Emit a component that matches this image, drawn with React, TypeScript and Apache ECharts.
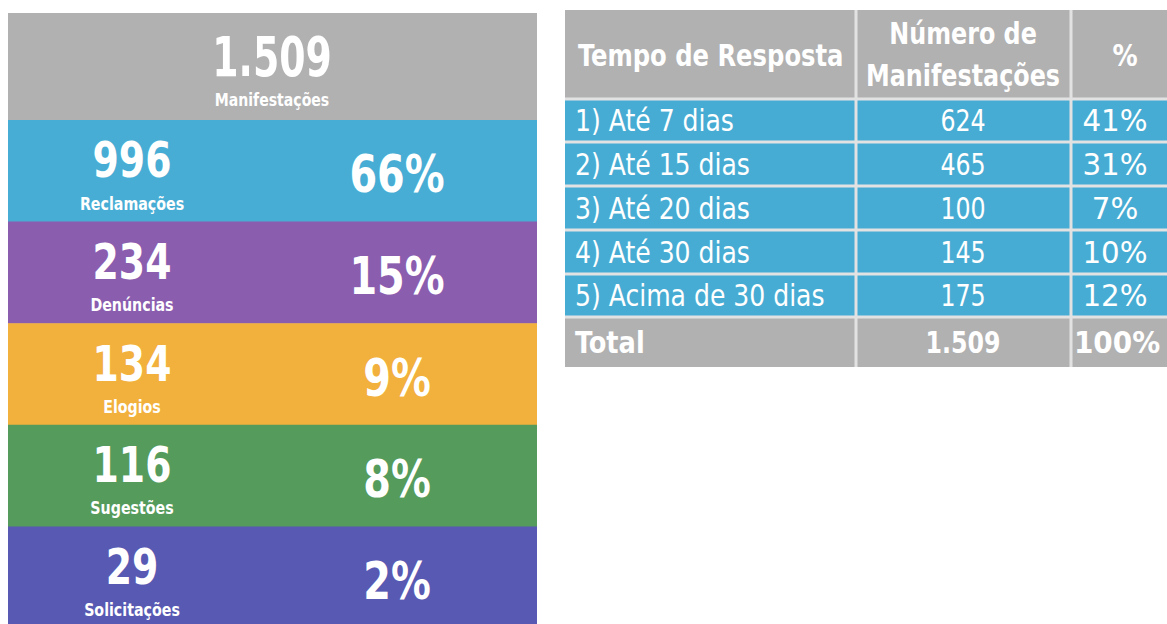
import React, { useEffect, useRef } from "react";
import * as echarts from "echarts";

// ---------- data ----------
const totalCount = "1.509";
const totalLabel = "Manifestações";
const summaryLabels = ["Reclamações", "Denúncias", "Elogios", "Sugestões", "Solicitações"];
const summaryCounts = ["996", "234", "134", "116", "29"];
const summaryPercents = ["66%", "15%", "9%", "8%", "2%"];

const tableHeaders = ["Tempo de Resposta", "Número de\nManifestações", "%"];
const responseTimes = ["1) Até 7 dias", "2) Até 15 dias", "3) Até 20 dias", "4) Até 30 dias", "5) Acima de 30 dias"];
const responseCounts = ["624", "465", "100", "145", "175"];
const responsePercents = ["41%", "31%", "7%", "10%", "12%"];
const totalRow = ["Total", "1.509", "100%"];

// ---------- styles ----------
const GRAY = "#B1B1B1";
const BLUE = "#47ACD3";
const bandColors = ["#48ADD4", "#8B5DAF", "#F2B03C", "#559B5C", "#5759B2"];
const FONT = '"DejaVu Sans Condensed", "DejaVu Sans", sans-serif';

function txt(text: string, x: number, y: number, size: number, bold: boolean, align: string = "center", sx = 1, lineHeight?: number) {
  return {
    type: "text",
    silent: true,
    z: 10,
    x,
    y,
    scaleX: sx,
    style: {
      text,
      x: 0,
      y: 0,
      fill: "#FFFFFF",
      fontFamily: FONT,
      fontSize: size,
      fontWeight: bold ? "bold" : "normal",
      textAlign: align,
      textVerticalAlign: "middle",
      lineHeight: lineHeight || size * 1.2,
    },
  };
}

function rect(x: number, y: number, w: number, h: number, fill: string, z = 1) {
  return { type: "rect", silent: true, z, shape: { x, y, width: w, height: h }, style: { fill } };
}

function buildGraphics() {
  const els: any[] = [];
  // ----- left panel -----
  const L = 8, R = 537, top = 13, headerBottom = 120, bottom = 628;
  els.push(rect(L, top, R - L, headerBottom - top, GRAY));
  els.push(txt(totalCount, 272, 57, 56, true, "center", 0.75));
  els.push(txt(totalLabel, 272, 100, 17, true, "center", 0.92));
  const bandH = (bottom - headerBottom) / summaryLabels.length;
  summaryLabels.forEach((label, i) => {
    const y0 = headerBottom + i * bandH;
    els.push(rect(L, y0, R - L, bandH + 0.5, bandColors[i]));
    els.push(txt(summaryCounts[i], 132, y0 + 40, 50, true, "center", 0.84));
    els.push(txt(label, 132, y0 + 84, 17, true, "center", 0.93));
    els.push(txt(summaryPercents[i], 397, y0 + 54, 52, true, "center", 0.85));
  });

  // ----- right table -----
  const cols = [565, 856, 1071, 1190];
  const rows = [10, 99, 142, 186, 230, 274, 317, 367];
  const g = 1.5;
  els.push(rect(cols[0], rows[0], cols[3] - cols[0], rows[rows.length - 1] - rows[0], "#E2E2E2", 0));
  const nRows = rows.length - 1;
  for (let r = 0; r < nRows; r++) {
    const isHeader = r === 0;
    const isTotal = r === nRows - 1;
    const fill = isHeader || isTotal ? GRAY : BLUE;
    for (let c = 0; c < 3; c++) {
      const x0 = cols[c] + (c === 0 ? 0 : g);
      const x1 = cols[c + 1] - (c === 2 ? 0 : g);
      const y0 = rows[r] + (r === 0 ? 0 : g);
      const y1 = rows[r + 1] - (r === nRows - 1 ? 0 : g);
      els.push(rect(x0, y0, x1 - x0, y1 - y0, fill, 2));
    }
  }
  const cx = [575, 963, 1115];
  const midY = (r: number) => (rows[r] + rows[r + 1]) / 2;
  // header
  els.push(txt(tableHeaders[0], 578, midY(0) + 1, 31, true, "left", 0.87));
  els.push(txt(tableHeaders[1], cx[1], midY(0), 31, true, "center", 0.855, 42));
  els.push(txt(tableHeaders[2], 1125, midY(0) + 1, 31, true, "center", 0.9));
  // body
  responseTimes.forEach((label, i) => {
    const y = midY(i + 1);
    els.push(txt(label, cx[0], y, 31, false, "left", 0.9));
    els.push(txt(responseCounts[i], cx[1], y, 31, false, "center", 0.85));
    els.push(txt(responsePercents[i], cx[2], y, 31, false, "center", 1.05));
  });
  // total
  const ty = midY(nRows - 1);
  els.push(txt(totalRow[0], cx[0], ty, 31, true, "left", 0.92));
  els.push(txt(totalRow[1], cx[1], ty, 31, true, "center", 0.85));
  els.push(txt(totalRow[2], cx[2] + 2, ty, 31, true, "center", 1.0));
  return els;
}

export default function App() {
  const ref = useRef<HTMLDivElement>(null);
  useEffect(() => {
    document.body.style.margin = "0";
    const chart = echarts.init(ref.current!, null, { renderer: "svg" });
    chart.setOption({
      animation: false,
      backgroundColor: "#FFFFFF",
      graphic: { elements: buildGraphics() },
    });
    return () => chart.dispose();
  }, []);
  return <div ref={ref} style={{ width: 1167, height: 624 }} />;
}
